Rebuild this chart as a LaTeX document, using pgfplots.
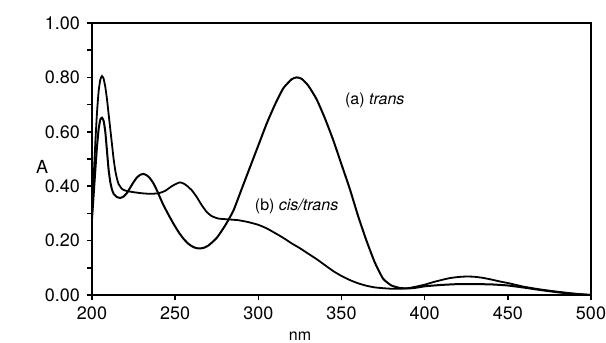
\documentclass[border=0pt]{standalone}
\usepackage{pgfplots}
\pgfplotsset{compat=1.18}
\usepackage{fontspec}
\setmainfont{TeX Gyre Heros}
\begin{document}
\begin{tikzpicture}
\useasboundingbox (-46pt,-24pt) rectangle (257pt,147.5pt);
\begin{axis}[
  scale only axis, width=249.5pt, height=136pt,
  xmin=200, xmax=500, ymin=0, ymax=1,
  xtick={200,250,300,350,400,450,500},
  ytick={0,0.2,0.4,0.6,0.8,1},
  minor ytick={0.1,0.3,0.5,0.7,0.9},
  xtick pos=lower, ytick pos=left,
  tick align=outside,
  major tick length=2.5pt, minor tick length=2.5pt,
  axis line style={line width=1.2pt},
  every tick/.style={line width=0.8pt, black},
  /pgf/number format/assume math mode=true,
  ticklabel style={font=\fontsize{9}{10}\selectfont},
  yticklabel style={/pgf/number format/.cd, fixed, fixed zerofill, precision=2},
  xticklabel style={/pgf/number format/.cd, fixed, precision=0},
  ylabel={A},
  ylabel style={rotate=-90, at={(axis description cs:-0.1,0.47)}, anchor=center, font=\fontsize{9}{10}\selectfont},
  xlabel={nm},
  xlabel style={at={(axis description cs:0.417,-0.15)}, anchor=center, inner sep=0pt, font=\fontsize{8}{9}\selectfont},
  clip=true,
]
% (a) trans
\addplot[black, line width=1pt, smooth, tension=0.3] coordinates {
(200,0.28) (201,0.37) (202,0.46) (203,0.545) (204,0.61) (205,0.645) (206,0.652)
(207,0.64) (208,0.60) (209,0.53) (210,0.46) (211,0.415) (212,0.388) (213,0.372)
(215,0.36) (217,0.357) (219,0.362) (221,0.375) (223,0.395) (225,0.415)
(227,0.432) (229,0.442) (231,0.445) (233,0.44) (235,0.428) (237,0.41)
(239,0.385) (241,0.357) (243,0.33) (246,0.295) (249,0.262) (252,0.232)
(255,0.207) (258,0.188) (261,0.176) (264,0.171) (267,0.173) (270,0.182)
(275,0.21) (280,0.255) (285,0.31) (290,0.39) (295,0.47) (300,0.55)
(305,0.63) (310,0.70) (315,0.76) (320,0.793) (323,0.80) (326,0.795)
(330,0.77) (335,0.72) (340,0.65) (345,0.57) (350,0.48) (355,0.39)
(360,0.29) (365,0.20) (370,0.12) (375,0.06) (380,0.035) (385,0.026)
(390,0.024) (395,0.027) (400,0.032) (410,0.037) (420,0.04) (430,0.04)
(440,0.039) (450,0.035) (460,0.027) (470,0.018) (480,0.01) (490,0.004) (500,0.0)
};
% (b) cis/trans
\addplot[black, line width=0.9pt, smooth, tension=0.3] coordinates {
(200,0.30) (201,0.43) (202,0.56) (203,0.67) (204,0.75) (205,0.792) (206,0.805)
(207,0.795) (208,0.765) (209,0.72) (210,0.665) (211,0.61) (212,0.555) (213,0.50)
(214,0.457) (215,0.428) (216,0.408) (218,0.39) (220,0.384) (222,0.381)
(225,0.378) (230,0.374) (235,0.372) (240,0.374) (244,0.383) (248,0.40)
(251,0.41) (253,0.414) (255,0.41) (257,0.402) (260,0.385) (263,0.36)
(266,0.33) (269,0.305) (272,0.29) (276,0.281) (282,0.278) (288,0.275)
(294,0.268) (300,0.258) (305,0.245) (310,0.228) (315,0.21) (320,0.19)
(325,0.172) (330,0.152) (335,0.132) (340,0.11) (345,0.088) (350,0.07)
(355,0.055) (360,0.043) (365,0.034) (370,0.028) (375,0.025) (380,0.023)
(385,0.023) (390,0.025) (395,0.031) (400,0.038) (405,0.047) (410,0.055)
(415,0.062) (420,0.066) (425,0.068) (430,0.067) (435,0.063) (440,0.057)
(445,0.05) (450,0.044) (455,0.037) (460,0.03) (470,0.02) (480,0.012)
(490,0.005) (500,0.0)
};
\node[font=\fontsize{8}{9}\selectfont] at (axis cs:370,0.717) {(a) \textit{trans}};
\node[font=\fontsize{8}{9}\selectfont] at (axis cs:323,0.325) {(b) \textit{cis/trans}};
\end{axis}
\end{tikzpicture}
\end{document}
